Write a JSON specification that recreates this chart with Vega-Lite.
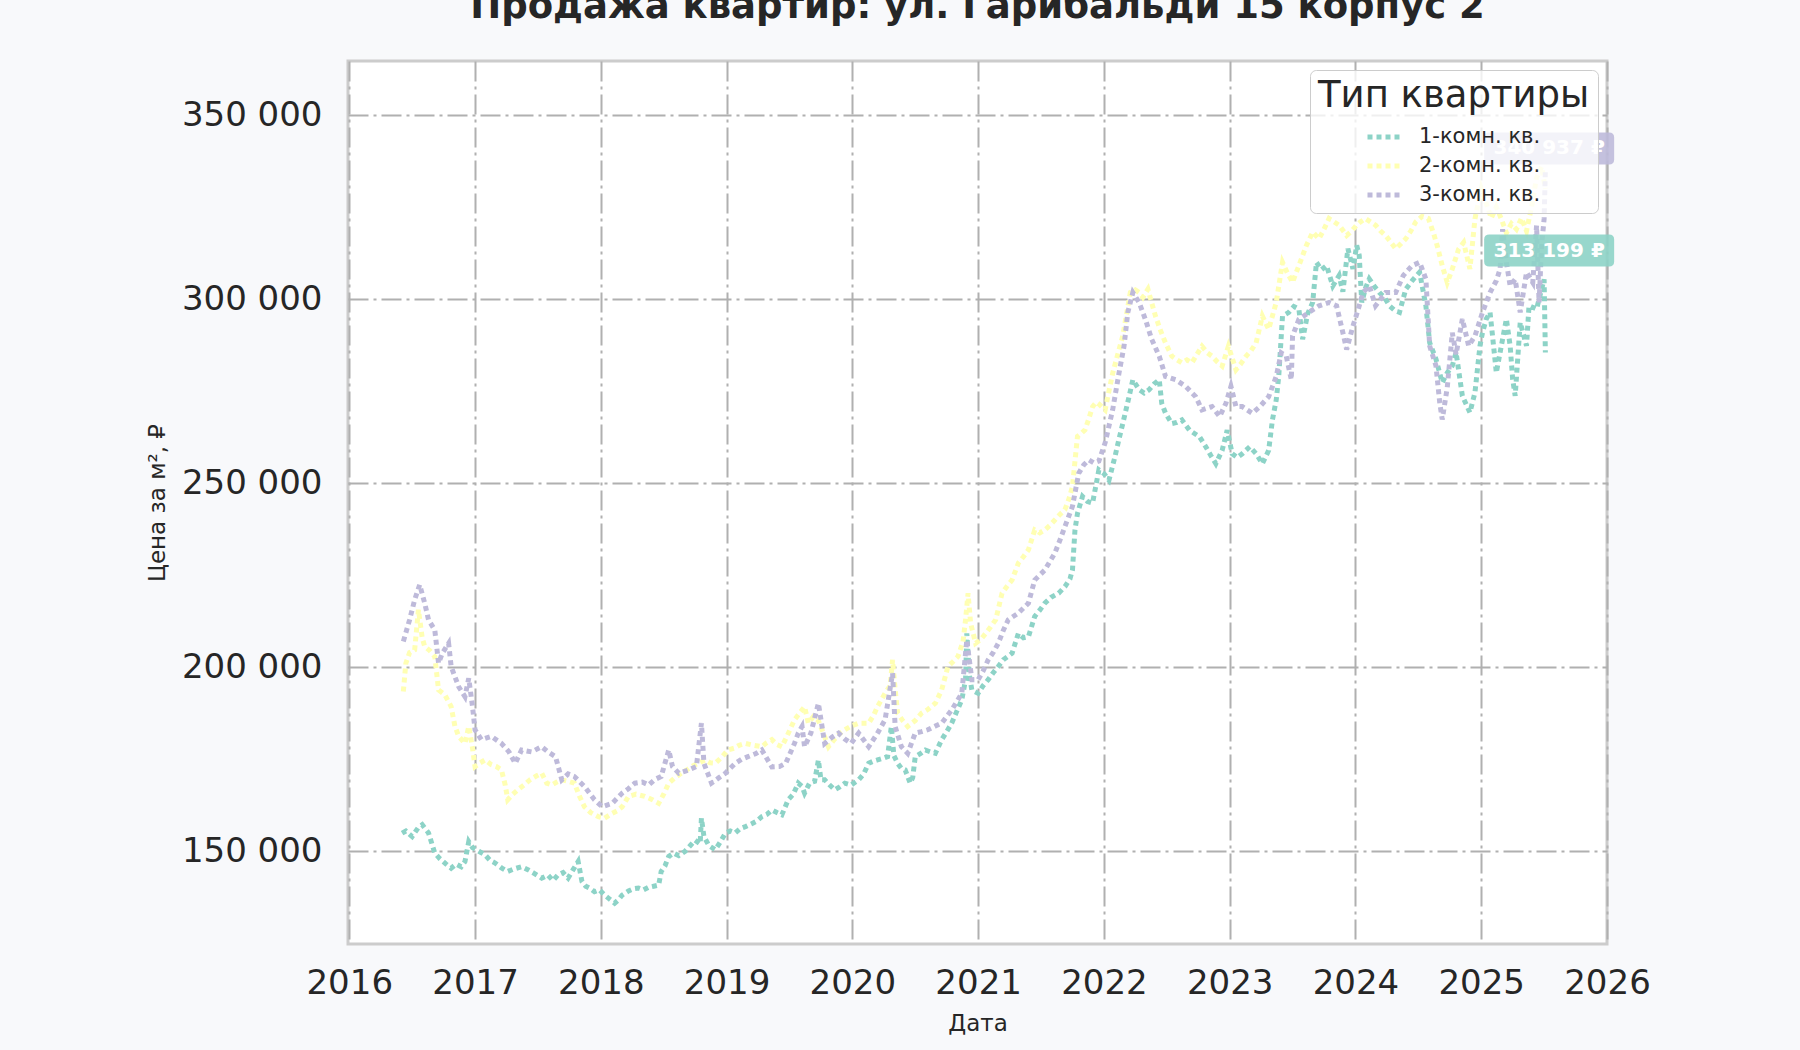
{
  "$schema": "https://vega.github.io/schema/vega-lite/v6.json",
  "width": 1259,
  "height": 883,
  "autosize": {"type": "none"},
  "padding": {"left": 348, "top": 61, "right": 193, "bottom": 106},
  "background": "#f8f9fb",
  "title": {
    "text": "Продажа квартир: ул. Гарибальди 15 корпус 2",
    "font": "DejaVu Sans",
    "fontSize": 37,
    "fontWeight": "bold",
    "color": "#262626",
    "anchor": "middle",
    "frame": "group",
    "baseline": "alphabetic",
    "offset": 6
  },
  "config": {
    "font": "DejaVu Sans",
    "locale": {"number": {"decimal": ",", "thousands": " ", "grouping": [3], "currency": ["", " ₽"]}},
    "view": {"fill": "white", "stroke": "#cccccc", "strokeWidth": 3},
    "axis": {
      "domain": false,
      "ticks": false,
      "grid": true,
      "gridColor": "#b0b0b0",
      "gridWidth": 2,
      "gridDash": [20, 5, 3, 5],
      "labelFont": "DejaVu Sans",
      "labelFontSize": 34,
      "labelColor": "#262626",
      "labelFlush": false,
      "titleFont": "DejaVu Sans",
      "titleFontSize": 23,
      "titleFontWeight": "normal",
      "titleColor": "#262626"
    },
    "legend": {
      "orient": "top-right",
      "offset": 9,
      "padding": 8,
      "fillColor": "rgba(255,255,255,0.8)",
      "strokeColor": "#cccccc",
      "cornerRadius": 6,
      "titleFont": "DejaVu Sans",
      "titleFontSize": 37,
      "titleFontWeight": "normal",
      "titleColor": "#262626",
      "titleLimit": 500,
      "titlePadding": 3,
      "labelFont": "DejaVu Sans",
      "labelFontSize": 21,
      "labelColor": "#262626",
      "labelLimit": 400,
      "labelOffset": 16,
      "rowPadding": 0,
      "symbolType": "stroke",
      "symbolSize": 1089,
      "symbolStrokeWidth": 5,
      "symbolDash": [5, 4],
      "symbolOffset": 47
    }
  },
  "datasets": {
    "prices": [
      {"t": 2016.42, "k": "1-комн. кв.", "v": 154900},
      {"t": 2016.45, "k": "1-комн. кв.", "v": 155500},
      {"t": 2016.50, "k": "1-комн. кв.", "v": 154000},
      {"t": 2016.55, "k": "1-комн. кв.", "v": 156500},
      {"t": 2016.58, "k": "1-комн. кв.", "v": 157200},
      {"t": 2016.63, "k": "1-комн. кв.", "v": 155000},
      {"t": 2016.68, "k": "1-комн. кв.", "v": 149500},
      {"t": 2016.72, "k": "1-комн. кв.", "v": 148000},
      {"t": 2016.77, "k": "1-комн. кв.", "v": 146500},
      {"t": 2016.81, "k": "1-комн. кв.", "v": 145400},
      {"t": 2016.85, "k": "1-комн. кв.", "v": 146500},
      {"t": 2016.89, "k": "1-комн. кв.", "v": 145800},
      {"t": 2016.92, "k": "1-комн. кв.", "v": 147200},
      {"t": 2016.95, "k": "1-комн. кв.", "v": 152600},
      {"t": 2016.98, "k": "1-комн. кв.", "v": 151000},
      {"t": 2017.03, "k": "1-комн. кв.", "v": 150000},
      {"t": 2017.08, "k": "1-комн. кв.", "v": 149000},
      {"t": 2017.12, "k": "1-комн. кв.", "v": 147500},
      {"t": 2017.16, "k": "1-комн. кв.", "v": 146800},
      {"t": 2017.21, "k": "1-комн. кв.", "v": 145500},
      {"t": 2017.26, "k": "1-комн. кв.", "v": 144500},
      {"t": 2017.31, "k": "1-комн. кв.", "v": 145200},
      {"t": 2017.37, "k": "1-комн. кв.", "v": 145800},
      {"t": 2017.42, "k": "1-комн. кв.", "v": 145000},
      {"t": 2017.47, "k": "1-комн. кв.", "v": 144000},
      {"t": 2017.53, "k": "1-комн. кв.", "v": 142700},
      {"t": 2017.58, "k": "1-комн. кв.", "v": 143500},
      {"t": 2017.62, "k": "1-комн. кв.", "v": 142000},
      {"t": 2017.66, "k": "1-комн. кв.", "v": 143600},
      {"t": 2017.70, "k": "1-комн. кв.", "v": 144200},
      {"t": 2017.74, "k": "1-комн. кв.", "v": 142700},
      {"t": 2017.78, "k": "1-комн. кв.", "v": 145000},
      {"t": 2017.82, "k": "1-комн. кв.", "v": 147200},
      {"t": 2017.85, "k": "1-комн. кв.", "v": 141800},
      {"t": 2017.88, "k": "1-комн. кв.", "v": 140500},
      {"t": 2017.92, "k": "1-комн. кв.", "v": 139800},
      {"t": 2017.95, "k": "1-комн. кв.", "v": 139000},
      {"t": 2017.99, "k": "1-комн. кв.", "v": 139500},
      {"t": 2018.03, "k": "1-комн. кв.", "v": 138100},
      {"t": 2018.07, "k": "1-комн. кв.", "v": 137000},
      {"t": 2018.11, "k": "1-комн. кв.", "v": 135900},
      {"t": 2018.14, "k": "1-комн. кв.", "v": 136800},
      {"t": 2018.17, "k": "1-комн. кв.", "v": 138100},
      {"t": 2018.22, "k": "1-комн. кв.", "v": 139200},
      {"t": 2018.26, "k": "1-комн. кв.", "v": 139800},
      {"t": 2018.30, "k": "1-комн. кв.", "v": 140000},
      {"t": 2018.34, "k": "1-комн. кв.", "v": 139500},
      {"t": 2018.38, "k": "1-комн. кв.", "v": 140200},
      {"t": 2018.42, "k": "1-комн. кв.", "v": 140500},
      {"t": 2018.46, "k": "1-комн. кв.", "v": 140800},
      {"t": 2018.48, "k": "1-комн. кв.", "v": 144500},
      {"t": 2018.51, "k": "1-комн. кв.", "v": 146000},
      {"t": 2018.54, "k": "1-комн. кв.", "v": 148600},
      {"t": 2018.58, "k": "1-комн. кв.", "v": 149500},
      {"t": 2018.62, "k": "1-комн. кв.", "v": 148800},
      {"t": 2018.67, "k": "1-комн. кв.", "v": 150000},
      {"t": 2018.71, "k": "1-комн. кв.", "v": 151500},
      {"t": 2018.75, "k": "1-комн. кв.", "v": 153000},
      {"t": 2018.79, "k": "1-комн. кв.", "v": 152000},
      {"t": 2018.80, "k": "1-комн. кв.", "v": 159000},
      {"t": 2018.82, "k": "1-комн. кв.", "v": 154000},
      {"t": 2018.86, "k": "1-комн. кв.", "v": 151500},
      {"t": 2018.91, "k": "1-комн. кв.", "v": 150400},
      {"t": 2018.95, "k": "1-комн. кв.", "v": 152500},
      {"t": 2018.99, "k": "1-комн. кв.", "v": 154900},
      {"t": 2019.03, "k": "1-комн. кв.", "v": 155500},
      {"t": 2019.07, "k": "1-комн. кв.", "v": 155000},
      {"t": 2019.11, "k": "1-комн. кв.", "v": 156200},
      {"t": 2019.15, "k": "1-комн. кв.", "v": 156700},
      {"t": 2019.20, "k": "1-комн. кв.", "v": 157500},
      {"t": 2019.24, "k": "1-комн. кв.", "v": 158200},
      {"t": 2019.28, "k": "1-комн. кв.", "v": 159400},
      {"t": 2019.32, "k": "1-комн. кв.", "v": 160000},
      {"t": 2019.36, "k": "1-комн. кв.", "v": 161200},
      {"t": 2019.40, "k": "1-комн. кв.", "v": 160500},
      {"t": 2019.44, "k": "1-комн. кв.", "v": 159900},
      {"t": 2019.49, "k": "1-комн. кв.", "v": 164000},
      {"t": 2019.53, "k": "1-комн. кв.", "v": 165500},
      {"t": 2019.57, "k": "1-комн. кв.", "v": 168500},
      {"t": 2019.60, "k": "1-комн. кв.", "v": 167600},
      {"t": 2019.62, "k": "1-комн. кв.", "v": 165800},
      {"t": 2019.66, "k": "1-комн. кв.", "v": 168500},
      {"t": 2019.70, "k": "1-комн. кв.", "v": 169000},
      {"t": 2019.73, "k": "1-комн. кв.", "v": 174800},
      {"t": 2019.75, "k": "1-комн. кв.", "v": 169400},
      {"t": 2019.78, "k": "1-комн. кв.", "v": 169400},
      {"t": 2019.82, "k": "1-комн. кв.", "v": 168000},
      {"t": 2019.86, "k": "1-комн. кв.", "v": 166700},
      {"t": 2019.90, "k": "1-комн. кв.", "v": 167500},
      {"t": 2019.94, "k": "1-комн. кв.", "v": 168500},
      {"t": 2019.99, "k": "1-комн. кв.", "v": 168000},
      {"t": 2020.05, "k": "1-комн. кв.", "v": 169400},
      {"t": 2020.09, "k": "1-комн. кв.", "v": 171000},
      {"t": 2020.13, "k": "1-комн. кв.", "v": 173900},
      {"t": 2020.17, "k": "1-комн. кв.", "v": 174500},
      {"t": 2020.20, "k": "1-комн. кв.", "v": 174800},
      {"t": 2020.24, "k": "1-комн. кв.", "v": 175200},
      {"t": 2020.28, "k": "1-комн. кв.", "v": 175700},
      {"t": 2020.31, "k": "1-комн. кв.", "v": 183900},
      {"t": 2020.33, "k": "1-комн. кв.", "v": 176000},
      {"t": 2020.36, "k": "1-комн. кв.", "v": 173900},
      {"t": 2020.39, "k": "1-комн. кв.", "v": 172500},
      {"t": 2020.42, "k": "1-комн. кв.", "v": 172100},
      {"t": 2020.46, "k": "1-комн. кв.", "v": 168500},
      {"t": 2020.48, "k": "1-комн. кв.", "v": 170000},
      {"t": 2020.50, "k": "1-комн. кв.", "v": 175700},
      {"t": 2020.54, "k": "1-комн. кв.", "v": 176500},
      {"t": 2020.58, "k": "1-комн. кв.", "v": 177500},
      {"t": 2020.62, "k": "1-комн. кв.", "v": 177000},
      {"t": 2020.66, "k": "1-комн. кв.", "v": 176600},
      {"t": 2020.71, "k": "1-комн. кв.", "v": 180300},
      {"t": 2020.75, "k": "1-комн. кв.", "v": 182500},
      {"t": 2020.79, "k": "1-комн. кв.", "v": 184800},
      {"t": 2020.83, "k": "1-комн. кв.", "v": 188000},
      {"t": 2020.87, "k": "1-комн. кв.", "v": 191100},
      {"t": 2020.90, "k": "1-комн. кв.", "v": 196600},
      {"t": 2020.91, "k": "1-комн. кв.", "v": 209200},
      {"t": 2020.93, "k": "1-комн. кв.", "v": 198000},
      {"t": 2020.95, "k": "1-комн. кв.", "v": 193800},
      {"t": 2021.00, "k": "1-комн. кв.", "v": 192900},
      {"t": 2021.04, "k": "1-комн. кв.", "v": 195000},
      {"t": 2021.08, "k": "1-комн. кв.", "v": 196600},
      {"t": 2021.12, "k": "1-комн. кв.", "v": 198500},
      {"t": 2021.16, "k": "1-комн. кв.", "v": 200200},
      {"t": 2021.20, "k": "1-комн. кв.", "v": 202000},
      {"t": 2021.24, "k": "1-комн. кв.", "v": 203000},
      {"t": 2021.27, "k": "1-комн. кв.", "v": 203800},
      {"t": 2021.32, "k": "1-комн. кв.", "v": 209200},
      {"t": 2021.36, "k": "1-комн. кв.", "v": 208000},
      {"t": 2021.40, "k": "1-комн. кв.", "v": 208300},
      {"t": 2021.45, "k": "1-комн. кв.", "v": 213800},
      {"t": 2021.49, "k": "1-комн. кв.", "v": 215500},
      {"t": 2021.53, "k": "1-комн. кв.", "v": 217400},
      {"t": 2021.58, "k": "1-комн. кв.", "v": 219000},
      {"t": 2021.64, "k": "1-комн. кв.", "v": 220100},
      {"t": 2021.69, "k": "1-комн. кв.", "v": 221900},
      {"t": 2021.73, "k": "1-комн. кв.", "v": 224000},
      {"t": 2021.75, "k": "1-комн. кв.", "v": 226400},
      {"t": 2021.77, "k": "1-комн. кв.", "v": 237300},
      {"t": 2021.79, "k": "1-комн. кв.", "v": 241800},
      {"t": 2021.83, "k": "1-комн. кв.", "v": 246400},
      {"t": 2021.87, "k": "1-комн. кв.", "v": 245000},
      {"t": 2021.91, "k": "1-комн. кв.", "v": 244600},
      {"t": 2021.96, "k": "1-комн. кв.", "v": 253600},
      {"t": 2022.00, "k": "1-комн. кв.", "v": 252600},
      {"t": 2022.04, "k": "1-комн. кв.", "v": 250800},
      {"t": 2022.09, "k": "1-комн. кв.", "v": 257500},
      {"t": 2022.12, "k": "1-комн. кв.", "v": 262000},
      {"t": 2022.15, "k": "1-комн. кв.", "v": 266200},
      {"t": 2022.20, "k": "1-комн. кв.", "v": 273500},
      {"t": 2022.23, "k": "1-комн. кв.", "v": 278100},
      {"t": 2022.28, "k": "1-комн. кв.", "v": 275400},
      {"t": 2022.32, "k": "1-комн. кв.", "v": 274500},
      {"t": 2022.36, "k": "1-комн. кв.", "v": 275400},
      {"t": 2022.40, "k": "1-комн. кв.", "v": 277000},
      {"t": 2022.44, "k": "1-комн. кв.", "v": 278100},
      {"t": 2022.46, "k": "1-комн. кв.", "v": 271700},
      {"t": 2022.49, "k": "1-комн. кв.", "v": 269000},
      {"t": 2022.54, "k": "1-комн. кв.", "v": 266200},
      {"t": 2022.58, "k": "1-комн. кв.", "v": 266500},
      {"t": 2022.62, "k": "1-комн. кв.", "v": 267200},
      {"t": 2022.68, "k": "1-комн. кв.", "v": 264400},
      {"t": 2022.72, "k": "1-комн. кв.", "v": 263500},
      {"t": 2022.76, "k": "1-комн. кв.", "v": 262600},
      {"t": 2022.81, "k": "1-комн. кв.", "v": 259900},
      {"t": 2022.85, "k": "1-комн. кв.", "v": 257500},
      {"t": 2022.89, "k": "1-комн. кв.", "v": 255300},
      {"t": 2022.94, "k": "1-комн. кв.", "v": 258900},
      {"t": 2022.98, "k": "1-комн. кв.", "v": 264400},
      {"t": 2023.02, "k": "1-комн. кв.", "v": 258000},
      {"t": 2023.06, "k": "1-комн. кв.", "v": 257000},
      {"t": 2023.10, "k": "1-комн. кв.", "v": 258000},
      {"t": 2023.16, "k": "1-комн. кв.", "v": 259900},
      {"t": 2023.21, "k": "1-комн. кв.", "v": 258000},
      {"t": 2023.26, "k": "1-комн. кв.", "v": 255300},
      {"t": 2023.31, "k": "1-комн. кв.", "v": 258900},
      {"t": 2023.34, "k": "1-комн. кв.", "v": 267200},
      {"t": 2023.37, "k": "1-комн. кв.", "v": 272600},
      {"t": 2023.39, "k": "1-комн. кв.", "v": 279000},
      {"t": 2023.42, "k": "1-комн. кв.", "v": 295400},
      {"t": 2023.47, "k": "1-комн. кв.", "v": 296400},
      {"t": 2023.51, "k": "1-комн. кв.", "v": 298000},
      {"t": 2023.55, "k": "1-комн. кв.", "v": 297300},
      {"t": 2023.58, "k": "1-комн. кв.", "v": 289100},
      {"t": 2023.62, "k": "1-комн. кв.", "v": 296000},
      {"t": 2023.66, "k": "1-комн. кв.", "v": 299100},
      {"t": 2023.69, "k": "1-комн. кв.", "v": 310000},
      {"t": 2023.73, "k": "1-комн. кв.", "v": 308000},
      {"t": 2023.77, "k": "1-комн. кв.", "v": 309100},
      {"t": 2023.82, "k": "1-комн. кв.", "v": 303600},
      {"t": 2023.87, "k": "1-комн. кв.", "v": 306400},
      {"t": 2023.90, "k": "1-комн. кв.", "v": 302000},
      {"t": 2023.94, "k": "1-комн. кв.", "v": 313700},
      {"t": 2023.98, "k": "1-комн. кв.", "v": 308200},
      {"t": 2024.01, "k": "1-комн. кв.", "v": 314600},
      {"t": 2024.03, "k": "1-комн. кв.", "v": 311900},
      {"t": 2024.05, "k": "1-комн. кв.", "v": 299100},
      {"t": 2024.08, "k": "1-комн. кв.", "v": 303000},
      {"t": 2024.11, "k": "1-комн. кв.", "v": 305500},
      {"t": 2024.15, "k": "1-комн. кв.", "v": 303500},
      {"t": 2024.19, "k": "1-комн. кв.", "v": 301800},
      {"t": 2024.23, "k": "1-комн. кв.", "v": 300500},
      {"t": 2024.27, "k": "1-комн. кв.", "v": 298200},
      {"t": 2024.31, "k": "1-комн. кв.", "v": 297000},
      {"t": 2024.35, "k": "1-комн. кв.", "v": 296400},
      {"t": 2024.40, "k": "1-комн. кв.", "v": 302700},
      {"t": 2024.45, "k": "1-комн. кв.", "v": 305000},
      {"t": 2024.51, "k": "1-комн. кв.", "v": 307300},
      {"t": 2024.56, "k": "1-комн. кв.", "v": 298200},
      {"t": 2024.59, "k": "1-комн. кв.", "v": 288200},
      {"t": 2024.64, "k": "1-комн. кв.", "v": 283700},
      {"t": 2024.69, "k": "1-комн. кв.", "v": 277300},
      {"t": 2024.73, "k": "1-комн. кв.", "v": 280000},
      {"t": 2024.77, "k": "1-комн. кв.", "v": 281900},
      {"t": 2024.80, "k": "1-комн. кв.", "v": 285500},
      {"t": 2024.85, "k": "1-комн. кв.", "v": 273700},
      {"t": 2024.91, "k": "1-комн. кв.", "v": 269200},
      {"t": 2024.95, "k": "1-комн. кв.", "v": 274600},
      {"t": 2024.99, "k": "1-комн. кв.", "v": 287300},
      {"t": 2025.01, "k": "1-комн. кв.", "v": 290900},
      {"t": 2025.04, "k": "1-комн. кв.", "v": 294600},
      {"t": 2025.07, "k": "1-комн. кв.", "v": 296400},
      {"t": 2025.09, "k": "1-комн. кв.", "v": 290000},
      {"t": 2025.12, "k": "1-комн. кв.", "v": 280000},
      {"t": 2025.15, "k": "1-комн. кв.", "v": 285500},
      {"t": 2025.20, "k": "1-комн. кв.", "v": 294600},
      {"t": 2025.23, "k": "1-комн. кв.", "v": 287300},
      {"t": 2025.25, "k": "1-комн. кв.", "v": 278200},
      {"t": 2025.27, "k": "1-комн. кв.", "v": 273700},
      {"t": 2025.31, "k": "1-комн. кв.", "v": 293700},
      {"t": 2025.36, "k": "1-комн. кв.", "v": 287300},
      {"t": 2025.38, "k": "1-комн. кв.", "v": 298200},
      {"t": 2025.44, "k": "1-комн. кв.", "v": 297300},
      {"t": 2025.46, "k": "1-комн. кв.", "v": 300000},
      {"t": 2025.50, "k": "1-комн. кв.", "v": 305400},
      {"t": 2025.51, "k": "1-комн. кв.", "v": 285500},

      {"t": 2016.43, "k": "2-комн. кв.", "v": 193400},
      {"t": 2016.45, "k": "2-комн. кв.", "v": 201100},
      {"t": 2016.48, "k": "2-комн. кв.", "v": 204000},
      {"t": 2016.52, "k": "2-комн. кв.", "v": 204700},
      {"t": 2016.55, "k": "2-комн. кв.", "v": 215600},
      {"t": 2016.58, "k": "2-комн. кв.", "v": 208000},
      {"t": 2016.60, "k": "2-комн. кв.", "v": 205600},
      {"t": 2016.64, "k": "2-комн. кв.", "v": 204500},
      {"t": 2016.68, "k": "2-комн. кв.", "v": 202900},
      {"t": 2016.71, "k": "2-комн. кв.", "v": 193800},
      {"t": 2016.76, "k": "2-комн. кв.", "v": 192500},
      {"t": 2016.81, "k": "2-комн. кв.", "v": 189300},
      {"t": 2016.84, "k": "2-комн. кв.", "v": 184000},
      {"t": 2016.87, "k": "2-комн. кв.", "v": 181200},
      {"t": 2016.92, "k": "2-комн. кв.", "v": 179300},
      {"t": 2016.95, "k": "2-комн. кв.", "v": 183900},
      {"t": 2016.98, "k": "2-комн. кв.", "v": 178000},
      {"t": 2017.00, "k": "2-комн. кв.", "v": 173000},
      {"t": 2017.04, "k": "2-комн. кв.", "v": 174000},
      {"t": 2017.08, "k": "2-комн. кв.", "v": 174800},
      {"t": 2017.13, "k": "2-комн. кв.", "v": 173500},
      {"t": 2017.17, "k": "2-комн. кв.", "v": 173000},
      {"t": 2017.21, "k": "2-комн. кв.", "v": 172100},
      {"t": 2017.24, "k": "2-комн. кв.", "v": 168000},
      {"t": 2017.26, "k": "2-комн. кв.", "v": 164000},
      {"t": 2017.30, "k": "2-комн. кв.", "v": 165500},
      {"t": 2017.34, "k": "2-комн. кв.", "v": 166700},
      {"t": 2017.39, "k": "2-комн. кв.", "v": 168000},
      {"t": 2017.44, "k": "2-комн. кв.", "v": 169500},
      {"t": 2017.49, "k": "2-комн. кв.", "v": 170500},
      {"t": 2017.53, "k": "2-комн. кв.", "v": 171200},
      {"t": 2017.57, "k": "2-комн. кв.", "v": 168500},
      {"t": 2017.61, "k": "2-комн. кв.", "v": 168000},
      {"t": 2017.65, "k": "2-комн. кв.", "v": 168800},
      {"t": 2017.69, "k": "2-комн. кв.", "v": 169400},
      {"t": 2017.74, "k": "2-комн. кв.", "v": 169000},
      {"t": 2017.79, "k": "2-комн. кв.", "v": 168500},
      {"t": 2017.83, "k": "2-комн. кв.", "v": 165000},
      {"t": 2017.87, "k": "2-комн. кв.", "v": 162100},
      {"t": 2017.92, "k": "2-комн. кв.", "v": 160500},
      {"t": 2017.98, "k": "2-комн. кв.", "v": 159400},
      {"t": 2018.03, "k": "2-комн. кв.", "v": 159000},
      {"t": 2018.09, "k": "2-комн. кв.", "v": 160300},
      {"t": 2018.13, "k": "2-комн. кв.", "v": 161000},
      {"t": 2018.17, "k": "2-комн. кв.", "v": 162100},
      {"t": 2018.22, "k": "2-комн. кв.", "v": 164900},
      {"t": 2018.28, "k": "2-комн. кв.", "v": 165500},
      {"t": 2018.35, "k": "2-комн. кв.", "v": 164900},
      {"t": 2018.41, "k": "2-комн. кв.", "v": 164000},
      {"t": 2018.46, "k": "2-комн. кв.", "v": 163000},
      {"t": 2018.50, "k": "2-комн. кв.", "v": 165500},
      {"t": 2018.54, "k": "2-комн. кв.", "v": 168500},
      {"t": 2018.59, "k": "2-комн. кв.", "v": 170000},
      {"t": 2018.64, "k": "2-комн. кв.", "v": 171200},
      {"t": 2018.68, "k": "2-комн. кв.", "v": 172000},
      {"t": 2018.72, "k": "2-комн. кв.", "v": 173000},
      {"t": 2018.78, "k": "2-комн. кв.", "v": 174000},
      {"t": 2018.83, "k": "2-комн. кв.", "v": 174800},
      {"t": 2018.87, "k": "2-комн. кв.", "v": 174000},
      {"t": 2018.91, "k": "2-комн. кв.", "v": 173900},
      {"t": 2018.96, "k": "2-комн. кв.", "v": 175500},
      {"t": 2019.01, "k": "2-комн. кв.", "v": 177500},
      {"t": 2019.06, "k": "2-комн. кв.", "v": 178000},
      {"t": 2019.10, "k": "2-комн. кв.", "v": 178800},
      {"t": 2019.15, "k": "2-комн. кв.", "v": 179300},
      {"t": 2019.21, "k": "2-комн. кв.", "v": 178800},
      {"t": 2019.28, "k": "2-комн. кв.", "v": 178400},
      {"t": 2019.32, "k": "2-комн. кв.", "v": 179500},
      {"t": 2019.36, "k": "2-комн. кв.", "v": 180300},
      {"t": 2019.40, "k": "2-комн. кв.", "v": 179000},
      {"t": 2019.44, "k": "2-комн. кв.", "v": 178400},
      {"t": 2019.49, "k": "2-комн. кв.", "v": 182000},
      {"t": 2019.54, "k": "2-комн. кв.", "v": 185700},
      {"t": 2019.58, "k": "2-комн. кв.", "v": 187500},
      {"t": 2019.62, "k": "2-комн. кв.", "v": 189300},
      {"t": 2019.65, "k": "2-комн. кв.", "v": 184800},
      {"t": 2019.69, "k": "2-комн. кв.", "v": 186600},
      {"t": 2019.73, "k": "2-комн. кв.", "v": 185500},
      {"t": 2019.77, "k": "2-комн. кв.", "v": 182000},
      {"t": 2019.81, "k": "2-комн. кв.", "v": 178400},
      {"t": 2019.86, "k": "2-комн. кв.", "v": 180500},
      {"t": 2019.90, "k": "2-комн. кв.", "v": 182000},
      {"t": 2019.94, "k": "2-комн. кв.", "v": 183000},
      {"t": 2019.99, "k": "2-комн. кв.", "v": 184000},
      {"t": 2020.05, "k": "2-комн. кв.", "v": 184800},
      {"t": 2020.13, "k": "2-комн. кв.", "v": 184800},
      {"t": 2020.17, "k": "2-комн. кв.", "v": 187000},
      {"t": 2020.20, "k": "2-комн. кв.", "v": 189300},
      {"t": 2020.26, "k": "2-комн. кв.", "v": 192900},
      {"t": 2020.30, "k": "2-комн. кв.", "v": 195000},
      {"t": 2020.32, "k": "2-комн. кв.", "v": 202000},
      {"t": 2020.34, "k": "2-комн. кв.", "v": 194000},
      {"t": 2020.36, "k": "2-комн. кв.", "v": 187500},
      {"t": 2020.40, "k": "2-комн. кв.", "v": 185500},
      {"t": 2020.44, "k": "2-комн. кв.", "v": 183900},
      {"t": 2020.50, "k": "2-комн. кв.", "v": 185500},
      {"t": 2020.55, "k": "2-комн. кв.", "v": 187500},
      {"t": 2020.60, "k": "2-комн. кв.", "v": 188500},
      {"t": 2020.66, "k": "2-комн. кв.", "v": 190200},
      {"t": 2020.71, "k": "2-комн. кв.", "v": 193800},
      {"t": 2020.76, "k": "2-комн. кв.", "v": 200200},
      {"t": 2020.80, "k": "2-комн. кв.", "v": 201500},
      {"t": 2020.84, "k": "2-комн. кв.", "v": 202900},
      {"t": 2020.88, "k": "2-комн. кв.", "v": 207000},
      {"t": 2020.90, "k": "2-комн. кв.", "v": 212900},
      {"t": 2020.92, "k": "2-комн. кв.", "v": 220100},
      {"t": 2020.94, "k": "2-комн. кв.", "v": 212000},
      {"t": 2020.98, "k": "2-комн. кв.", "v": 206500},
      {"t": 2021.02, "k": "2-комн. кв.", "v": 207500},
      {"t": 2021.06, "k": "2-комн. кв.", "v": 209200},
      {"t": 2021.10, "k": "2-комн. кв.", "v": 211000},
      {"t": 2021.14, "k": "2-комн. кв.", "v": 212900},
      {"t": 2021.19, "k": "2-комн. кв.", "v": 220100},
      {"t": 2021.23, "k": "2-комн. кв.", "v": 222000},
      {"t": 2021.27, "k": "2-комн. кв.", "v": 223700},
      {"t": 2021.32, "k": "2-комн. кв.", "v": 228300},
      {"t": 2021.36, "k": "2-комн. кв.", "v": 230000},
      {"t": 2021.40, "k": "2-комн. кв.", "v": 231900},
      {"t": 2021.45, "k": "2-комн. кв.", "v": 237300},
      {"t": 2021.49, "k": "2-комн. кв.", "v": 236500},
      {"t": 2021.53, "k": "2-комн. кв.", "v": 237300},
      {"t": 2021.57, "k": "2-комн. кв.", "v": 238500},
      {"t": 2021.61, "k": "2-комн. кв.", "v": 240000},
      {"t": 2021.65, "k": "2-комн. кв.", "v": 241500},
      {"t": 2021.69, "k": "2-комн. кв.", "v": 242800},
      {"t": 2021.72, "k": "2-комн. кв.", "v": 245500},
      {"t": 2021.75, "k": "2-комн. кв.", "v": 249100},
      {"t": 2021.77, "k": "2-комн. кв.", "v": 256000},
      {"t": 2021.79, "k": "2-комн. кв.", "v": 262700},
      {"t": 2021.82, "k": "2-комн. кв.", "v": 263500},
      {"t": 2021.85, "k": "2-комн. кв.", "v": 264500},
      {"t": 2021.88, "k": "2-комн. кв.", "v": 267500},
      {"t": 2021.91, "k": "2-комн. кв.", "v": 270800},
      {"t": 2021.94, "k": "2-комн. кв.", "v": 272000},
      {"t": 2021.96, "k": "2-комн. кв.", "v": 271500},
      {"t": 2022.01, "k": "2-комн. кв.", "v": 269900},
      {"t": 2022.04, "k": "2-комн. кв.", "v": 275000},
      {"t": 2022.07, "k": "2-комн. кв.", "v": 279900},
      {"t": 2022.11, "k": "2-комн. кв.", "v": 285000},
      {"t": 2022.15, "k": "2-комн. кв.", "v": 290000},
      {"t": 2022.18, "k": "2-комн. кв.", "v": 296000},
      {"t": 2022.21, "k": "2-комн. кв.", "v": 301800},
      {"t": 2022.25, "k": "2-комн. кв.", "v": 302500},
      {"t": 2022.28, "k": "2-комн. кв.", "v": 301800},
      {"t": 2022.31, "k": "2-комн. кв.", "v": 300500},
      {"t": 2022.35, "k": "2-комн. кв.", "v": 302700},
      {"t": 2022.38, "k": "2-комн. кв.", "v": 299000},
      {"t": 2022.41, "k": "2-комн. кв.", "v": 295400},
      {"t": 2022.45, "k": "2-комн. кв.", "v": 291500},
      {"t": 2022.49, "k": "2-комн. кв.", "v": 288100},
      {"t": 2022.54, "k": "2-комн. кв.", "v": 284500},
      {"t": 2022.58, "k": "2-комн. кв.", "v": 283500},
      {"t": 2022.62, "k": "2-комн. кв.", "v": 282700},
      {"t": 2022.66, "k": "2-комн. кв.", "v": 283500},
      {"t": 2022.70, "k": "2-комн. кв.", "v": 282700},
      {"t": 2022.74, "k": "2-комн. кв.", "v": 285000},
      {"t": 2022.78, "k": "2-комн. кв.", "v": 287200},
      {"t": 2022.82, "k": "2-комн. кв.", "v": 285500},
      {"t": 2022.86, "k": "2-комн. кв.", "v": 284500},
      {"t": 2022.90, "k": "2-комн. кв.", "v": 283000},
      {"t": 2022.94, "k": "2-комн. кв.", "v": 281800},
      {"t": 2022.99, "k": "2-комн. кв.", "v": 287200},
      {"t": 2023.02, "k": "2-комн. кв.", "v": 284000},
      {"t": 2023.05, "k": "2-комн. кв.", "v": 280800},
      {"t": 2023.09, "k": "2-комн. кв.", "v": 282500},
      {"t": 2023.13, "k": "2-комн. кв.", "v": 284500},
      {"t": 2023.17, "k": "2-комн. кв.", "v": 286000},
      {"t": 2023.21, "k": "2-комн. кв.", "v": 288100},
      {"t": 2023.26, "k": "2-комн. кв.", "v": 295400},
      {"t": 2023.31, "k": "2-комн. кв.", "v": 291800},
      {"t": 2023.37, "k": "2-комн. кв.", "v": 299100},
      {"t": 2023.42, "k": "2-комн. кв.", "v": 310000},
      {"t": 2023.46, "k": "2-комн. кв.", "v": 307000},
      {"t": 2023.50, "k": "2-комн. кв.", "v": 304600},
      {"t": 2023.55, "k": "2-комн. кв.", "v": 309100},
      {"t": 2023.61, "k": "2-комн. кв.", "v": 314600},
      {"t": 2023.66, "k": "2-комн. кв.", "v": 318200},
      {"t": 2023.71, "k": "2-комн. кв.", "v": 316400},
      {"t": 2023.75, "k": "2-комн. кв.", "v": 319000},
      {"t": 2023.79, "k": "2-комн. кв.", "v": 321900},
      {"t": 2023.83, "k": "2-комн. кв.", "v": 321000},
      {"t": 2023.87, "k": "2-комн. кв.", "v": 320100},
      {"t": 2023.93, "k": "2-комн. кв.", "v": 317300},
      {"t": 2023.97, "k": "2-комн. кв.", "v": 318500},
      {"t": 2024.01, "k": "2-комн. кв.", "v": 320100},
      {"t": 2024.04, "k": "2-комн. кв.", "v": 321000},
      {"t": 2024.08, "k": "2-комн. кв.", "v": 321900},
      {"t": 2024.12, "k": "2-комн. кв.", "v": 321000},
      {"t": 2024.16, "k": "2-комн. кв.", "v": 320100},
      {"t": 2024.20, "k": "2-комн. кв.", "v": 318500},
      {"t": 2024.24, "k": "2-комн. кв.", "v": 317300},
      {"t": 2024.28, "k": "2-комн. кв.", "v": 315500},
      {"t": 2024.32, "k": "2-комн. кв.", "v": 313700},
      {"t": 2024.36, "k": "2-комн. кв.", "v": 315000},
      {"t": 2024.40, "k": "2-комн. кв.", "v": 316400},
      {"t": 2024.44, "k": "2-комн. кв.", "v": 318500},
      {"t": 2024.48, "k": "2-комн. кв.", "v": 321000},
      {"t": 2024.53, "k": "2-комн. кв.", "v": 322500},
      {"t": 2024.58, "k": "2-комн. кв.", "v": 321900},
      {"t": 2024.62, "k": "2-комн. кв.", "v": 318000},
      {"t": 2024.65, "k": "2-комн. кв.", "v": 314500},
      {"t": 2024.69, "k": "2-комн. кв.", "v": 309100},
      {"t": 2024.73, "k": "2-комн. кв.", "v": 304500},
      {"t": 2024.77, "k": "2-комн. кв.", "v": 308200},
      {"t": 2024.82, "k": "2-комн. кв.", "v": 313600},
      {"t": 2024.86, "k": "2-комн. кв.", "v": 315400},
      {"t": 2024.91, "k": "2-комн. кв.", "v": 308200},
      {"t": 2024.95, "k": "2-комн. кв.", "v": 321800},
      {"t": 2025.00, "k": "2-комн. кв.", "v": 330000},
      {"t": 2025.04, "k": "2-комн. кв.", "v": 326000},
      {"t": 2025.08, "k": "2-комн. кв.", "v": 322000},
      {"t": 2025.12, "k": "2-комн. кв.", "v": 325000},
      {"t": 2025.16, "k": "2-комн. кв.", "v": 321800},
      {"t": 2025.20, "k": "2-комн. кв.", "v": 318000},
      {"t": 2025.24, "k": "2-комн. кв.", "v": 320500},
      {"t": 2025.28, "k": "2-комн. кв.", "v": 319000},
      {"t": 2025.32, "k": "2-комн. кв.", "v": 322000},
      {"t": 2025.36, "k": "2-комн. кв.", "v": 318500},
      {"t": 2025.40, "k": "2-комн. кв.", "v": 325000},
      {"t": 2025.44, "k": "2-комн. кв.", "v": 333000},
      {"t": 2025.48, "k": "2-комн. кв.", "v": 336000},
      {"t": 2025.51, "k": "2-комн. кв.", "v": 330000},

      {"t": 2016.43, "k": "3-комн. кв.", "v": 207000},
      {"t": 2016.48, "k": "3-комн. кв.", "v": 212900},
      {"t": 2016.52, "k": "3-комн. кв.", "v": 218300},
      {"t": 2016.56, "k": "3-комн. кв.", "v": 222400},
      {"t": 2016.60, "k": "3-комн. кв.", "v": 217400},
      {"t": 2016.63, "k": "3-комн. кв.", "v": 212900},
      {"t": 2016.68, "k": "3-комн. кв.", "v": 210100},
      {"t": 2016.71, "k": "3-комн. кв.", "v": 201100},
      {"t": 2016.74, "k": "3-комн. кв.", "v": 203800},
      {"t": 2016.79, "k": "3-комн. кв.", "v": 206500},
      {"t": 2016.81, "k": "3-комн. кв.", "v": 200200},
      {"t": 2016.87, "k": "3-комн. кв.", "v": 194700},
      {"t": 2016.92, "k": "3-комн. кв.", "v": 192000},
      {"t": 2016.95, "k": "3-комн. кв.", "v": 197000},
      {"t": 2016.98, "k": "3-комн. кв.", "v": 189300},
      {"t": 2017.00, "k": "3-комн. кв.", "v": 183000},
      {"t": 2017.05, "k": "3-комн. кв.", "v": 180300},
      {"t": 2017.13, "k": "3-комн. кв.", "v": 181200},
      {"t": 2017.21, "k": "3-комн. кв.", "v": 179300},
      {"t": 2017.27, "k": "3-комн. кв.", "v": 177000},
      {"t": 2017.32, "k": "3-комн. кв.", "v": 173900},
      {"t": 2017.37, "k": "3-комн. кв.", "v": 177500},
      {"t": 2017.45, "k": "3-комн. кв.", "v": 177000},
      {"t": 2017.53, "k": "3-комн. кв.", "v": 178400},
      {"t": 2017.58, "k": "3-комн. кв.", "v": 177000},
      {"t": 2017.64, "k": "3-комн. кв.", "v": 175700},
      {"t": 2017.69, "k": "3-комн. кв.", "v": 169400},
      {"t": 2017.74, "k": "3-комн. кв.", "v": 171000},
      {"t": 2017.79, "k": "3-комн. кв.", "v": 170300},
      {"t": 2017.87, "k": "3-комн. кв.", "v": 167600},
      {"t": 2017.95, "k": "3-комн. кв.", "v": 164000},
      {"t": 2018.01, "k": "3-комн. кв.", "v": 162100},
      {"t": 2018.09, "k": "3-комн. кв.", "v": 163000},
      {"t": 2018.17, "k": "3-комн. кв.", "v": 165800},
      {"t": 2018.22, "k": "3-комн. кв.", "v": 167000},
      {"t": 2018.27, "k": "3-комн. кв.", "v": 168500},
      {"t": 2018.33, "k": "3-комн. кв.", "v": 168800},
      {"t": 2018.38, "k": "3-комн. кв.", "v": 168000},
      {"t": 2018.43, "k": "3-комн. кв.", "v": 169500},
      {"t": 2018.48, "k": "3-комн. кв.", "v": 170300},
      {"t": 2018.54, "k": "3-комн. кв.", "v": 177500},
      {"t": 2018.57, "k": "3-комн. кв.", "v": 173000},
      {"t": 2018.62, "k": "3-комн. кв.", "v": 171200},
      {"t": 2018.70, "k": "3-комн. кв.", "v": 172100},
      {"t": 2018.76, "k": "3-комн. кв.", "v": 173000},
      {"t": 2018.80, "k": "3-комн. кв.", "v": 184800},
      {"t": 2018.82, "k": "3-комн. кв.", "v": 173900},
      {"t": 2018.88, "k": "3-комн. кв.", "v": 168500},
      {"t": 2018.94, "k": "3-комн. кв.", "v": 170000},
      {"t": 2018.99, "k": "3-комн. кв.", "v": 171200},
      {"t": 2019.07, "k": "3-комн. кв.", "v": 173900},
      {"t": 2019.12, "k": "3-комн. кв.", "v": 175000},
      {"t": 2019.17, "k": "3-комн. кв.", "v": 175700},
      {"t": 2019.23, "k": "3-комн. кв.", "v": 176500},
      {"t": 2019.28, "k": "3-комн. кв.", "v": 177500},
      {"t": 2019.36, "k": "3-комн. кв.", "v": 172900},
      {"t": 2019.42, "k": "3-комн. кв.", "v": 173000},
      {"t": 2019.47, "k": "3-комн. кв.", "v": 173900},
      {"t": 2019.54, "k": "3-комн. кв.", "v": 179300},
      {"t": 2019.57, "k": "3-комн. кв.", "v": 182100},
      {"t": 2019.60, "k": "3-комн. кв.", "v": 183900},
      {"t": 2019.62, "k": "3-комн. кв.", "v": 178400},
      {"t": 2019.67, "k": "3-комн. кв.", "v": 182100},
      {"t": 2019.73, "k": "3-комн. кв.", "v": 190200},
      {"t": 2019.78, "k": "3-комн. кв.", "v": 179300},
      {"t": 2019.84, "k": "3-комн. кв.", "v": 181000},
      {"t": 2019.89, "k": "3-комн. кв.", "v": 182100},
      {"t": 2019.94, "k": "3-комн. кв.", "v": 180500},
      {"t": 2019.99, "k": "3-комн. кв.", "v": 179300},
      {"t": 2020.05, "k": "3-комн. кв.", "v": 182100},
      {"t": 2020.13, "k": "3-комн. кв.", "v": 178400},
      {"t": 2020.20, "k": "3-комн. кв.", "v": 182100},
      {"t": 2020.26, "k": "3-комн. кв.", "v": 185700},
      {"t": 2020.32, "k": "3-комн. кв.", "v": 198400},
      {"t": 2020.34, "k": "3-комн. кв.", "v": 183900},
      {"t": 2020.39, "k": "3-комн. кв.", "v": 178400},
      {"t": 2020.44, "k": "3-комн. кв.", "v": 176600},
      {"t": 2020.50, "k": "3-комн. кв.", "v": 182100},
      {"t": 2020.55, "k": "3-комн. кв.", "v": 182500},
      {"t": 2020.60, "k": "3-комн. кв.", "v": 183000},
      {"t": 2020.66, "k": "3-комн. кв.", "v": 184000},
      {"t": 2020.71, "k": "3-комн. кв.", "v": 184800},
      {"t": 2020.79, "k": "3-комн. кв.", "v": 188400},
      {"t": 2020.87, "k": "3-комн. кв.", "v": 192900},
      {"t": 2020.91, "k": "3-комн. кв.", "v": 207400},
      {"t": 2020.95, "k": "3-комн. кв.", "v": 196600},
      {"t": 2021.00, "k": "3-комн. кв.", "v": 196600},
      {"t": 2021.04, "k": "3-комн. кв.", "v": 199000},
      {"t": 2021.08, "k": "3-комн. кв.", "v": 202000},
      {"t": 2021.12, "k": "3-комн. кв.", "v": 204000},
      {"t": 2021.16, "k": "3-комн. кв.", "v": 206500},
      {"t": 2021.20, "k": "3-комн. кв.", "v": 210000},
      {"t": 2021.24, "k": "3-комн. кв.", "v": 212900},
      {"t": 2021.32, "k": "3-комн. кв.", "v": 214700},
      {"t": 2021.40, "k": "3-комн. кв.", "v": 217400},
      {"t": 2021.45, "k": "3-комн. кв.", "v": 223700},
      {"t": 2021.53, "k": "3-комн. кв.", "v": 226400},
      {"t": 2021.61, "k": "3-комн. кв.", "v": 231000},
      {"t": 2021.65, "k": "3-комн. кв.", "v": 234500},
      {"t": 2021.69, "k": "3-комн. кв.", "v": 238200},
      {"t": 2021.75, "k": "3-комн. кв.", "v": 243700},
      {"t": 2021.80, "k": "3-комн. кв.", "v": 252700},
      {"t": 2021.84, "k": "3-комн. кв.", "v": 255000},
      {"t": 2021.88, "k": "3-комн. кв.", "v": 256300},
      {"t": 2021.92, "k": "3-комн. кв.", "v": 255500},
      {"t": 2021.96, "k": "3-комн. кв.", "v": 256000},
      {"t": 2022.01, "k": "3-комн. кв.", "v": 261000},
      {"t": 2022.07, "k": "3-комн. кв.", "v": 270000},
      {"t": 2022.12, "k": "3-комн. кв.", "v": 279900},
      {"t": 2022.16, "k": "3-комн. кв.", "v": 287200},
      {"t": 2022.19, "k": "3-комн. кв.", "v": 296400},
      {"t": 2022.23, "k": "3-комн. кв.", "v": 301800},
      {"t": 2022.28, "k": "3-комн. кв.", "v": 299100},
      {"t": 2022.33, "k": "3-комн. кв.", "v": 294500},
      {"t": 2022.38, "k": "3-комн. кв.", "v": 289100},
      {"t": 2022.44, "k": "3-комн. кв.", "v": 284500},
      {"t": 2022.49, "k": "3-комн. кв.", "v": 279000},
      {"t": 2022.57, "k": "3-комн. кв.", "v": 278100},
      {"t": 2022.65, "k": "3-комн. кв.", "v": 276300},
      {"t": 2022.73, "k": "3-комн. кв.", "v": 273500},
      {"t": 2022.78, "k": "3-комн. кв.", "v": 269900},
      {"t": 2022.86, "k": "3-комн. кв.", "v": 270800},
      {"t": 2022.92, "k": "3-комн. кв.", "v": 268100},
      {"t": 2022.97, "k": "3-комн. кв.", "v": 271700},
      {"t": 2023.01, "k": "3-комн. кв.", "v": 276300},
      {"t": 2023.05, "k": "3-комн. кв.", "v": 270800},
      {"t": 2023.10, "k": "3-комн. кв.", "v": 270800},
      {"t": 2023.18, "k": "3-комн. кв.", "v": 269000},
      {"t": 2023.24, "k": "3-комн. кв.", "v": 270800},
      {"t": 2023.31, "k": "3-комн. кв.", "v": 273500},
      {"t": 2023.37, "k": "3-комн. кв.", "v": 279000},
      {"t": 2023.41, "k": "3-комн. кв.", "v": 285400},
      {"t": 2023.45, "k": "3-комн. кв.", "v": 284500},
      {"t": 2023.49, "k": "3-комн. кв.", "v": 278100},
      {"t": 2023.50, "k": "3-комн. кв.", "v": 290000},
      {"t": 2023.55, "k": "3-комн. кв.", "v": 294500},
      {"t": 2023.63, "k": "3-комн. кв.", "v": 296400},
      {"t": 2023.71, "k": "3-комн. кв.", "v": 298200},
      {"t": 2023.79, "k": "3-комн. кв.", "v": 299100},
      {"t": 2023.85, "k": "3-комн. кв.", "v": 298200},
      {"t": 2023.90, "k": "3-комн. кв.", "v": 290900},
      {"t": 2023.93, "k": "3-комн. кв.", "v": 286300},
      {"t": 2023.98, "k": "3-комн. кв.", "v": 292700},
      {"t": 2024.02, "k": "3-комн. кв.", "v": 297000},
      {"t": 2024.06, "k": "3-комн. кв.", "v": 301800},
      {"t": 2024.11, "k": "3-комн. кв.", "v": 303600},
      {"t": 2024.16, "k": "3-комн. кв.", "v": 298200},
      {"t": 2024.20, "k": "3-комн. кв.", "v": 300000},
      {"t": 2024.24, "k": "3-комн. кв.", "v": 301800},
      {"t": 2024.32, "k": "3-комн. кв.", "v": 301800},
      {"t": 2024.38, "k": "3-комн. кв.", "v": 306400},
      {"t": 2024.45, "k": "3-комн. кв.", "v": 309100},
      {"t": 2024.51, "k": "3-комн. кв.", "v": 310000},
      {"t": 2024.56, "k": "3-комн. кв.", "v": 305500},
      {"t": 2024.59, "k": "3-комн. кв.", "v": 287300},
      {"t": 2024.64, "k": "3-комн. кв.", "v": 281900},
      {"t": 2024.67, "k": "3-комн. кв.", "v": 271900},
      {"t": 2024.69, "k": "3-комн. кв.", "v": 267300},
      {"t": 2024.73, "k": "3-комн. кв.", "v": 276000},
      {"t": 2024.77, "k": "3-комн. кв.", "v": 290900},
      {"t": 2024.80, "k": "3-комн. кв.", "v": 285000},
      {"t": 2024.85, "k": "3-комн. кв.", "v": 294600},
      {"t": 2024.90, "k": "3-комн. кв.", "v": 287300},
      {"t": 2024.95, "k": "3-комн. кв.", "v": 290000},
      {"t": 2025.01, "k": "3-комн. кв.", "v": 296400},
      {"t": 2025.07, "k": "3-комн. кв.", "v": 301800},
      {"t": 2025.12, "k": "3-комн. кв.", "v": 305000},
      {"t": 2025.15, "k": "3-комн. кв.", "v": 308200},
      {"t": 2025.17, "k": "3-комн. кв.", "v": 319000},
      {"t": 2025.20, "k": "3-комн. кв.", "v": 310000},
      {"t": 2025.23, "k": "3-комн. кв.", "v": 303600},
      {"t": 2025.27, "k": "3-комн. кв.", "v": 305400},
      {"t": 2025.31, "k": "3-комн. кв.", "v": 296400},
      {"t": 2025.36, "k": "3-комн. кв.", "v": 307300},
      {"t": 2025.41, "k": "3-комн. кв.", "v": 304500},
      {"t": 2025.44, "k": "3-комн. кв.", "v": 320000},
      {"t": 2025.46, "k": "3-комн. кв.", "v": 299100},
      {"t": 2025.48, "k": "3-комн. кв.", "v": 314500},
      {"t": 2025.50, "k": "3-комн. кв.", "v": 321800},
      {"t": 2025.51, "k": "3-комн. кв.", "v": 335000}
    ],
    "last": [
      {"t": 2025.54, "k": "3-комн. кв.", "v": 340937, "label": "340 937 ₽"},
      {"t": 2025.54, "k": "1-комн. кв.", "v": 313199, "label": "313 199 ₽"}
    ]
  },
  "encoding": {
    "x": {
      "field": "t",
      "type": "quantitative",
      "title": "Дата",
      "scale": {"domain": [2015.99, 2026], "nice": false, "zero": false},
      "axis": {
        "values": [2016, 2017, 2018, 2019, 2020, 2021, 2022, 2023, 2024, 2025, 2026],
        "format": "d",
        "labelPadding": 22,
        "titlePadding": 12
      }
    },
    "y": {
      "field": "v",
      "type": "quantitative",
      "title": "Цена за м², ₽",
      "scale": {"domain": [124800, 364700], "nice": false, "zero": false},
      "axis": {
        "values": [150000, 200000, 250000, 300000, 350000],
        "format": ",d",
        "labelPadding": 26,
        "titlePadding": 12
      }
    }
  },
  "layer": [
    {
      "data": {"name": "prices"},
      "mark": {"type": "line", "strokeWidth": 5, "strokeDash": [5, 4], "strokeCap": "butt", "opacity": 1, "clip": true},
      "encoding": {
        "color": {
          "field": "k",
          "type": "nominal",
          "title": "Тип квартиры",
          "scale": {"domain": ["1-комн. кв.", "2-комн. кв.", "3-комн. кв."], "range": ["#8dd3c7", "#ffffb3", "#bebada"]}
        }
      }
    },
    {
      "data": {"name": "last"},
      "mark": {
        "type": "point",
        "shape": "M-0.92,-0.246 L0.92,-0.246 Q1,-0.246 1,-0.17 L1,0.17 Q1,0.246 0.92,0.246 L-0.92,0.246 Q-1,0.246 -1,0.17 L-1,-0.17 Q-1,-0.246 -0.92,-0.246 Z",
        "size": 16900,
        "filled": true,
        "opacity": 0.9,
        "strokeWidth": 0
      },
      "encoding": {
        "fill": {
          "field": "k",
          "type": "nominal",
          "legend": null,
          "scale": {"domain": ["1-комн. кв.", "3-комн. кв."], "range": ["#8dd3c7", "#bebada"]}
        }
      }
    },
    {
      "data": {"name": "last"},
      "mark": {"type": "text", "color": "white", "font": "DejaVu Sans", "fontWeight": "bold", "fontSize": 20, "align": "center", "baseline": "middle"},
      "encoding": {
        "text": {"field": "label"}
      }
    }
  ]
}
